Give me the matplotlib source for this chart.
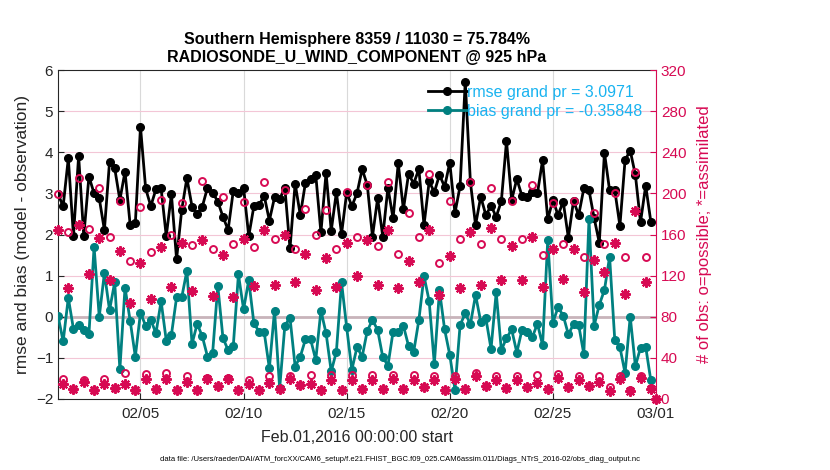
import matplotlib
matplotlib.use("Agg")
import matplotlib.pyplot as plt
import matplotlib.dates as mdates
from datetime import datetime, timedelta

plt.rcParams['font.family'] = ['Liberation Sans', 'DejaVu Sans']

# 6-hourly bins starting Feb 01 2016 00Z
start = datetime(2016, 2, 1)
n_bins = 116

rmse = [2.98, 2.69, 3.85, 1.97, 3.91, 1.96, 3.41, 3.00, 2.88, 2.11,
        3.77, 3.61, 2.84, 3.53, 2.23, 2.27, 4.62, 3.12, 2.69, 3.10,
        3.12, 1.96, 2.98, 1.40, 2.60, 3.37, 2.68, 2.50, 2.68, 3.14,
        3.02, 2.80, 2.43, 2.11, 3.06, 3.00, 3.14, 1.96, 2.69, 2.72,
        2.94, 2.34, 2.90, 2.86, 3.14, 1.66, 3.24, 2.47, 3.26, 3.35,
        3.45, 2.05, 3.50, 2.09, 3.03, 2.01, 3.02, 2.69, 3.00, 3.59,
        3.20, 1.95, 2.88, 1.95, 3.14, 2.39, 3.73, 2.61, 3.47, 3.24,
        3.59, 2.23, 3.29, 3.03, 3.45, 3.16, 3.75, 2.52, 3.18, 5.72,
        3.27, 2.23, 2.92, 2.47, 2.70, 2.43, 2.81, 4.27, 2.84, 3.35,
        2.94, 2.92, 3.03, 3.00, 3.81, 2.37, 2.84, 2.47, 2.80, 1.92,
        2.82, 2.47, 3.12, 3.08, 2.40, 1.80, 3.99, 3.07, 3.08, 2.21,
        3.81, 4.04, 3.45, 2.30, 3.19, 2.31]

bias = [0.03, -0.60, 0.46, -0.30, -0.20, -0.32, -0.43, 1.70, 0.00, 1.06,
        0.16, 0.84, -1.28, 0.71, -0.10, -0.97, 0.10, -0.22, -0.08, -0.40,
        0.38, -0.58, -0.44, 0.47, 0.47, 1.12, -0.66, -0.17, -0.48, -0.97,
        -0.87, 0.75, -0.52, -0.81, -0.71, 1.03, 0.18, 0.89, -0.16, -0.36,
        -0.38, -1.25, 0.15, -1.74, -0.22, -0.02, -1.21, -0.97, -0.55, -0.55,
        -1.05, 0.15, -0.40, -1.33, -0.85, 0.84, -0.26, -1.29, -0.74, -0.97,
        -0.34, -0.08, -0.32, -0.98, -1.19, -0.36, -0.36, -0.22, -0.71, -0.85,
        -0.08, 0.99, 0.38, -1.15, 0.64, -0.31, -0.93, -1.77, -0.20, 0.08,
        -0.18, 0.53, -0.12, -0.04, -0.78, 0.59, -0.81, -0.52, -0.31, -0.87,
        -0.32, -0.36, -0.50, -0.17, -0.69, 1.87, -0.14, 0.23, 0.03, -0.43,
        -0.18, -0.20, -0.91, 2.37, -0.22, 0.29, 0.65, 1.46, -0.56, -0.74,
        -1.37, 0.00, -1.20, -0.75, -0.73, -1.55]

# obs counts (one extra empty bin at Mar 01 00Z)
n_possible = [199, 19, 162, 10, 215, 18, 165, 9, 205, 19,
              158, 11, 193, 25, 134, 9, 187, 24, 143, 10,
              194, 25, 160, 9, 191, 22, 150, 9, 212, 20,
              146, 13, 196, 20, 151, 9, 192, 18, 148, 9,
              211, 22, 156, 10, 203, 22, 146, 14, 185, 23,
              160, 9, 184, 23, 146, 9, 201, 23, 158, 10,
              208, 23, 149, 10, 211, 23, 141, 10, 181, 23,
              158, 12, 219, 22, 132, 9, 193, 22, 156, 10,
              211, 25, 151, 13, 205, 22, 156, 11, 193, 22,
              156, 12, 208, 23, 140, 10, 191, 24, 151, 12,
              193, 22, 138, 13, 181, 22, 151, 12, 200, 22,
              138, 9, 221, 22, 138, 11, 0]

n_assim = [164, 15, 108, 10, 169, 17, 122, 9, 157, 15,
           116, 11, 144, 15, 93, 9, 132, 19, 97, 10,
           148, 19, 109, 9, 152, 17, 105, 9, 155, 19,
           100, 13, 140, 19, 99, 9, 156, 15, 110, 9,
           164, 16, 111, 10, 160, 19, 114, 14, 141, 15,
           106, 9, 137, 18, 109, 9, 152, 18, 120, 10,
           155, 18, 111, 10, 164, 19, 108, 10, 134, 18,
           114, 12, 164, 18, 101, 9, 139, 19, 108, 10,
           162, 22, 111, 13, 166, 18, 116, 11, 149, 18,
           116, 12, 158, 16, 109, 10, 146, 20, 117, 12,
           146, 18, 104, 13, 135, 17, 124, 8, 152, 19,
           102, 8, 183, 20, 114, 10, 0]

rmse_label = 'rmse grand pr = 3.0971'
bias_label = 'bias grand pr = -0.35848'
tick_days = [datetime(2016, 2, 5), datetime(2016, 2, 10), datetime(2016, 2, 15),
             datetime(2016, 2, 20), datetime(2016, 2, 25), datetime(2016, 3, 1)]

t = [start + timedelta(hours=6 * i) for i in range(n_bins)]
t_obs = [start + timedelta(hours=6 * i) for i in range(len(n_possible))]

red = '#D70A53'
teal = '#008080'
txt = '#262626'

fig = plt.figure(figsize=(8.3, 4.7), dpi=100)
ax = fig.add_axes([58 / 830, 1 - 399 / 470, 598 / 830, 329 / 470])

ax.set_xlim(start, datetime(2016, 3, 1))
ax.set_ylim(-2, 6)
ax.set_yticks(range(-2, 7))
ax.set_xticks(tick_days)
ax.xaxis.set_major_formatter(mdates.DateFormatter('%m/%d'))

# grid: gray verticals, pink horizontals, zero line
for d in tick_days:
    ax.axvline(d, color='#d9d9d9', lw=0.8, zorder=0)
for yv in range(-1, 6):
    ax.axhline(yv, color='#f3c6d6', lw=0.8, zorder=0)
ax.axhline(0, color='#c8b4ba', lw=2.0, zorder=1)

l1, = ax.plot(t, rmse, '-o', color='black', lw=2, ms=5.5, mfc='black', zorder=3)
l2, = ax.plot(t, bias, '-o', color=teal, lw=2, ms=5.5, mfc=teal, zorder=3)

ax.tick_params(direction='in', labelsize=11, colors=txt, length=4)
ax.tick_params(axis='x', pad=6)
for s in ['left', 'top', 'bottom']:
    ax.spines[s].set_color('#262626')
ax.spines['right'].set_visible(False)

ax.set_ylabel('rmse and bias (model - observation)', fontsize=12.5, color=txt, labelpad=4)
ax.set_xlabel('Feb.01,2016 00:00:00 start', fontsize=11.5, color=txt, labelpad=6)
ax.set_title('Southern Hemisphere 8359 / 11030 = 75.784%\nRADIOSONDE_U_WIND_COMPONENT @ 925 hPa',
             fontsize=11.5, fontweight='bold', pad=6, linespacing=1.25)

leg = ax.legend([l1, l2], [rmse_label, bias_label], loc='upper left',
                bbox_to_anchor=(0.603, 0.985), frameon=False, fontsize=11.5,
                handlelength=2.4, handletextpad=0.0, borderaxespad=0.2,
                labelspacing=0.25, labelcolor='#19B3F0')

ax2 = ax.twinx()
ax2.set_ylim(0, 320)
ax2.set_yticks(range(0, 321, 40))
ax2.plot(t_obs, n_possible, 'o', ls='none', mfc='none', mec=red, ms=5, mew=1.4,
         clip_on=False, zorder=4)
ax2.plot(t_obs, n_assim, marker=(8, 2, 0), ls='none', color=red, mec=red, ms=7.5, mew=1.5,
         clip_on=False, zorder=4)
ax2.tick_params(direction='in', labelsize=11, colors=red, length=4)
ax2.spines['right'].set_color(red)
for s in ['left', 'top', 'bottom']:
    ax2.spines[s].set_visible(False)
ax2.set_ylabel('# of obs: o=possible; *=assimilated', fontsize=12, color=red, labelpad=8)

fig.text(0.482, 0.022,
         'data file: /Users/raeder/DAI/ATM_forcXX/CAM6_setup/f.e21.FHIST_BGC.f09_025.CAM6assim.011/Diags_NTrS_2016-02/obs_diag_output.nc',
         ha='center', va='center', fontsize=5.5)

fig.savefig('out.png', dpi=100)
